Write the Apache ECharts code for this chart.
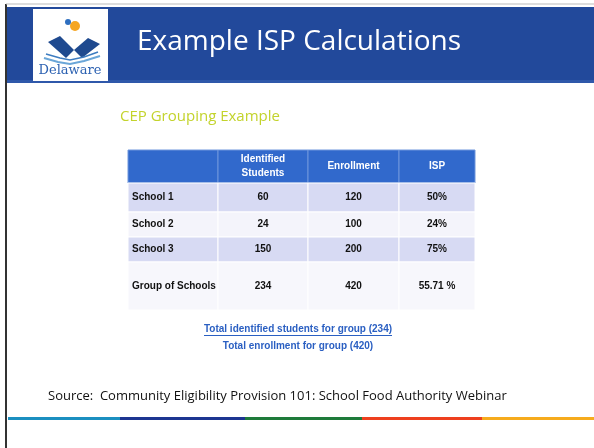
<!DOCTYPE html>
<html>
<head>
<meta charset="utf-8">
<script src="https://cdn.jsdelivr.net/npm/echarts@6/dist/echarts.min.js"></script>
<style>
  html, body { margin: 0; padding: 0; background: #ffffff; }
  #chart { width: 594px; height: 448px; }
</style>
</head>
<body>
<div id="chart"></div>
<script>
// table data
var headers = ['', 'Identified\nStudents', 'Enrollment', 'ISP']
var rowNames = ['School 1', 'School 2', 'School 3', 'Group of Schools']
var identified = [60, 24, 150, 234]
var enrollment = [120, 100, 200, 420]
var isp = ['50%', '24%', '75%', '55.71 %']

// table layout (px inside the grid)
var colEdges = [0, 90, 180, 271, 347]
var rowEdges = [0, 33, 62, 87, 112, 160]
var rowFills = ['#3169cc', '#d7daf3', '#f4f4fb', '#d7daf3', '#f7f7fc']

var cells = []
headers.forEach(function (h, c) { cells.push([c, 0, h]) })
rowNames.forEach(function (name, i) {
  cells.push([0, i + 1, name])
  cells.push([1, i + 1, String(identified[i])])
  cells.push([2, i + 1, String(enrollment[i])])
  cells.push([3, i + 1, isp[i]])
})

var myChart = echarts.init(document.getElementById('chart'))

function renderCell (params, api) {
  var c = api.value(0)
  var r = api.value(1)
  var p0 = api.coord([colEdges[c], rowEdges[r]])
  var p1 = api.coord([colEdges[c + 1], rowEdges[r + 1]])
  var isHead = r === 0
  var left = c === 0
  return {
    type: 'group',
    children: [{
      type: 'rect',
      shape: { x: p0[0], y: p0[1], width: p1[0] - p0[0], height: p1[1] - p0[1] },
      style: { fill: rowFills[r], stroke: isHead ? '#6f96dc' : '#ffffff', lineWidth: 1 }
    }, {
      type: 'text',
      x: left ? p0[0] + 4 : (p0[0] + p1[0]) / 2,
      y: (p0[1] + p1[1]) / 2,
      style: {
        text: cells[params.dataIndex][2],
        fill: isHead ? '#ffffff' : '#111111',
        font: 'bold 10px "Liberation Sans"',
        align: left ? 'left' : 'center',
        verticalAlign: 'middle',
        lineHeight: 14
      }
    }]
  }
}

var stripe = [
  ['#1b8fc0', 8, 120],
  ['#1d3591', 120, 245],
  ['#1e7a3a', 245, 362],
  ['#ee3f1e', 362, 482],
  ['#f6ab1c', 482, 594]
]

var graphics = [
  // slide frame
  { type: 'line', shape: { x1: 6, y1: 4, x2: 6, y2: 448 }, style: { stroke: '#333333', lineWidth: 2 } },
  { type: 'line', shape: { x1: 6, y1: 4, x2: 594, y2: 4 }, style: { stroke: '#bbbbbb', lineWidth: 1 } },
  // header band
  { type: 'rect', shape: { x: 7, y: 7, width: 587, height: 76 }, style: { fill: '#22499b' } },
  { type: 'rect', shape: { x: 7, y: 80, width: 587, height: 3 }, style: { fill: '#2f58aa' } },
  // logo
  { type: 'rect', shape: { x: 33, y: 9, width: 75, height: 72 }, style: { fill: '#ffffff' } },
  { type: 'polygon', shape: { points: [[48, 42], [60, 36], [74, 50], [66, 58]] }, style: { fill: '#1f4a8f' } },
  { type: 'polygon', shape: { points: [[74, 50], [88, 38], [100, 44], [82, 58]] }, style: { fill: '#1f4a8f' } },
  { type: 'polyline', shape: { points: [[44, 58], [58, 62], [70, 64], [84, 61], [100, 56]] }, style: { stroke: '#6aa6d8', lineWidth: 2, fill: null } },
  { type: 'polyline', shape: { points: [[46, 54], [60, 58], [70, 60], [84, 57], [98, 52]] }, style: { stroke: '#3d7cc0', lineWidth: 1.5, fill: null } },
  { type: 'circle', shape: { cx: 75, cy: 26, r: 5 }, style: { fill: '#f5a623' } },
  { type: 'circle', shape: { cx: 68, cy: 22, r: 3 }, style: { fill: '#2e6fc0' } },
  { type: 'text', x: 70, y: 71, style: { text: 'Delaware', font: '13px "DejaVu Serif"', fill: '#2d62b2', align: 'center', verticalAlign: 'middle' } },
  // title
  { type: 'text', x: 137, y: 42, style: { text: 'Example ISP Calculations', font: '28px "Open Sans"', fill: '#ffffff', verticalAlign: 'middle' } },
  // subtitle
  { type: 'text', x: 120, y: 117, style: { text: 'CEP Grouping Example', font: '15px "Open Sans"', fill: '#c3d32c', verticalAlign: 'middle' } },
  // notes under table
  { type: 'text', x: 298, y: 329, style: { text: 'Total identified students for group (234)', font: 'bold 10px "Liberation Sans"', fill: '#2a5fc2', align: 'center', verticalAlign: 'middle' } },
  { type: 'line', shape: { x1: 204, y1: 335.5, x2: 392, y2: 335.5 }, style: { stroke: '#2a5fc2', lineWidth: 1 } },
  { type: 'text', x: 298, y: 346, style: { text: 'Total enrollment for group (420)', font: 'bold 10px "Liberation Sans"', fill: '#2a5fc2', align: 'center', verticalAlign: 'middle' } },
  // source
  { type: 'text', x: 48, y: 396, style: { text: 'Source:  Community Eligibility Provision 101: School Food Authority Webinar', font: '13px "Open Sans"', fill: '#111111', verticalAlign: 'middle' } }
]
stripe.forEach(function (s) {
  graphics.push({ type: 'rect', shape: { x: s[1], y: 417, width: s[2] - s[1], height: 3 }, style: { fill: s[0] } })
})

myChart.setOption({
  animation: false,
  backgroundColor: '#ffffff',
  grid: { left: 128, top: 150, width: 347, height: 160 },
  xAxis: { type: 'value', min: 0, max: 347, show: false },
  yAxis: { type: 'value', min: 0, max: 160, inverse: true, show: false },
  graphic: graphics,
  series: [{
    type: 'custom',
    renderItem: renderCell,
    data: cells,
    silent: true
  }]
})
</script>
</body>
</html>
